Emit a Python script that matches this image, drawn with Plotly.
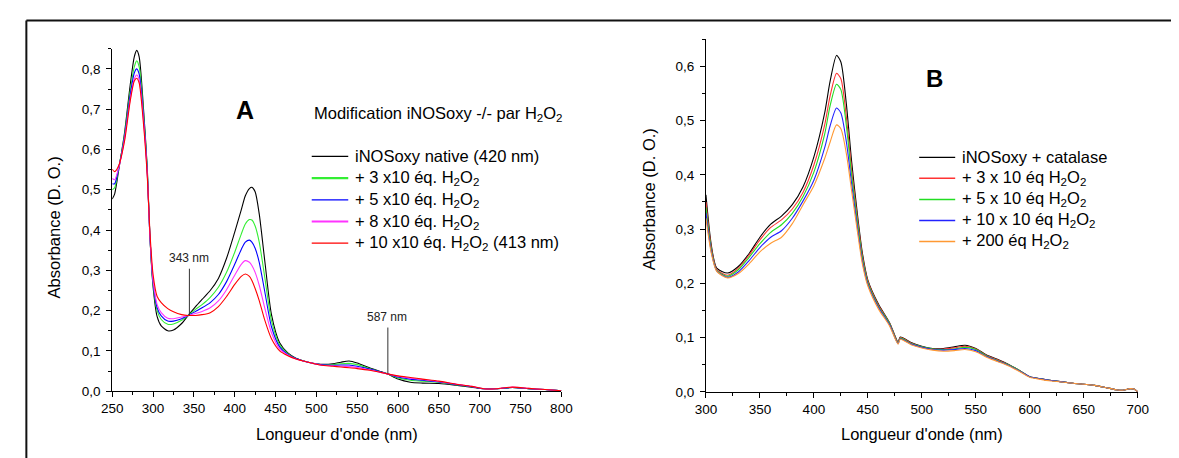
import plotly.graph_objects as go

W, H = 1179, 458
FONT = "Liberation Sans, Arial, sans-serif"

# ---------------- Panel A data ----------------
wl_a = [250, 253, 258, 265, 272, 277, 280, 283, 288, 293, 296, 300, 305, 310, 318, 325,
        335, 343, 352, 360, 370, 380, 390, 400, 408, 413, 418, 421, 425, 430, 437, 445,
        455, 465, 475, 490, 505, 520, 530, 540, 550, 565, 580, 587, 600, 615, 630, 650,
        670, 690, 705, 720, 740, 760, 780, 800]
a_native = [0.477, 0.490, 0.550, 0.640, 0.760, 0.830, 0.846, 0.830, 0.710, 0.550, 0.390, 0.260,
            0.185, 0.162, 0.150, 0.152, 0.168, 0.188, 0.210, 0.228, 0.250, 0.280, 0.330, 0.395,
            0.450, 0.485, 0.503, 0.506, 0.495, 0.440, 0.320, 0.190, 0.120, 0.095, 0.082, 0.072,
            0.067, 0.068, 0.072, 0.075, 0.070, 0.058, 0.048, 0.043, 0.030, 0.022, 0.020, 0.019,
            0.015, 0.010, 0.006, 0.006, 0.009, 0.006, 0.004, 0.001]
a_3x10 = [0.500, 0.505, 0.555, 0.635, 0.745, 0.805, 0.820, 0.805, 0.700, 0.545, 0.390, 0.265,
          0.200, 0.178, 0.166, 0.167, 0.176, 0.188, 0.203, 0.215, 0.233, 0.258, 0.295, 0.345,
          0.390, 0.415, 0.426, 0.425, 0.410, 0.370, 0.280, 0.175, 0.115, 0.093, 0.081, 0.072,
          0.066, 0.066, 0.068, 0.069, 0.066, 0.056, 0.047, 0.043, 0.033, 0.027, 0.025, 0.022,
          0.016, 0.011, 0.006, 0.006, 0.009, 0.006, 0.004, 0.001]
a_5x10 = [0.515, 0.515, 0.555, 0.630, 0.735, 0.790, 0.800, 0.787, 0.690, 0.540, 0.390, 0.270,
          0.207, 0.187, 0.174, 0.174, 0.180, 0.188, 0.198, 0.207, 0.220, 0.240, 0.272, 0.315,
          0.352, 0.370, 0.375, 0.370, 0.355, 0.320, 0.245, 0.160, 0.110, 0.091, 0.081, 0.072,
          0.066, 0.064, 0.065, 0.065, 0.062, 0.055, 0.047, 0.043, 0.035, 0.030, 0.027, 0.023,
          0.017, 0.011, 0.006, 0.006, 0.009, 0.006, 0.004, 0.001]
a_8x10 = [0.528, 0.525, 0.555, 0.625, 0.725, 0.775, 0.785, 0.773, 0.680, 0.535, 0.390, 0.275,
          0.215, 0.195, 0.181, 0.180, 0.184, 0.188, 0.193, 0.198, 0.207, 0.224, 0.252, 0.288,
          0.315, 0.324, 0.320, 0.312, 0.295, 0.263, 0.205, 0.145, 0.105, 0.090, 0.080, 0.072,
          0.065, 0.063, 0.062, 0.061, 0.059, 0.053, 0.046, 0.043, 0.037, 0.032, 0.029, 0.024,
          0.018, 0.012, 0.006, 0.006, 0.010, 0.007, 0.004, 0.001]
a_10x10 = [0.551, 0.545, 0.560, 0.620, 0.720, 0.770, 0.777, 0.765, 0.670, 0.530, 0.400, 0.290,
           0.235, 0.220, 0.205, 0.197, 0.190, 0.188, 0.188, 0.190, 0.195, 0.210, 0.235, 0.265,
           0.285, 0.291, 0.285, 0.275, 0.255, 0.225, 0.175, 0.130, 0.100, 0.088, 0.080, 0.072,
           0.065, 0.062, 0.060, 0.058, 0.056, 0.052, 0.046, 0.043, 0.038, 0.034, 0.030, 0.025,
           0.018, 0.012, 0.006, 0.006, 0.010, 0.007, 0.004, 0.001]

names_a = ["iNOSoxy native (420 nm)",
           "+ 3 x10 éq. H<sub>2</sub>O<sub>2</sub>",
           "+ 5 x10 éq. H<sub>2</sub>O<sub>2</sub>",
           "+ 8 x10 éq. H<sub>2</sub>O<sub>2</sub>",
           "+ 10 x10 éq. H<sub>2</sub>O<sub>2</sub> (413 nm)"]
series_a = [a_native, a_3x10, a_5x10, a_8x10, a_10x10]
colors_a = ["#000000", "#33ee33", "#0000ff", "#ff33ff", "#ff0000"]
keywidth_a = [1.2, 2.2, 1.2, 2.2, 1.2]

# ---------------- Panel B data ----------------
wl_b = [300, 305, 310, 320, 330, 340, 350, 360, 370, 380, 390, 400, 410, 415, 421, 425,
        430, 435, 440, 445, 450, 460, 470, 478, 480, 490, 500, 510, 520, 530, 540, 550,
        560, 570, 580, 590, 600, 610, 620, 640, 650, 660, 670, 680, 686, 693, 697, 700]
b_cat = [0.363, 0.270, 0.228, 0.219, 0.231, 0.255, 0.285, 0.309, 0.324, 0.345, 0.378, 0.433,
         0.514, 0.572, 0.620, 0.608, 0.532, 0.424, 0.333, 0.255, 0.206, 0.161, 0.128, 0.092,
         0.101, 0.091, 0.084, 0.080, 0.080, 0.083, 0.086, 0.080, 0.068, 0.060, 0.051, 0.040,
         0.028, 0.024, 0.021, 0.016, 0.014, 0.012, 0.008, 0.004, 0.003, 0.006, 0.005, 0.000]
b_3x10 = [0.350, 0.266, 0.226, 0.215, 0.228, 0.252, 0.280, 0.303, 0.317, 0.337, 0.368, 0.418,
          0.492, 0.545, 0.587, 0.577, 0.508, 0.408, 0.325, 0.250, 0.204, 0.159, 0.127, 0.091,
          0.100, 0.090, 0.083, 0.079, 0.079, 0.081, 0.084, 0.079, 0.067, 0.059, 0.050, 0.040,
          0.028, 0.024, 0.021, 0.016, 0.014, 0.012, 0.008, 0.004, 0.003, 0.006, 0.005, 0.000]
b_5x10 = [0.340, 0.262, 0.224, 0.213, 0.225, 0.248, 0.273, 0.294, 0.308, 0.329, 0.360, 0.405,
          0.475, 0.527, 0.567, 0.557, 0.492, 0.398, 0.318, 0.246, 0.201, 0.157, 0.126, 0.090,
          0.099, 0.089, 0.083, 0.079, 0.078, 0.079, 0.082, 0.078, 0.066, 0.058, 0.050, 0.040,
          0.028, 0.024, 0.021, 0.016, 0.014, 0.012, 0.008, 0.004, 0.003, 0.006, 0.005, 0.000]
b_10x10 = [0.330, 0.258, 0.223, 0.211, 0.221, 0.242, 0.266, 0.285, 0.297, 0.320, 0.352, 0.390,
           0.450, 0.490, 0.523, 0.514, 0.462, 0.383, 0.308, 0.240, 0.198, 0.155, 0.124, 0.089,
           0.098, 0.088, 0.082, 0.078, 0.077, 0.078, 0.080, 0.076, 0.065, 0.057, 0.049, 0.039,
           0.028, 0.024, 0.021, 0.016, 0.014, 0.012, 0.008, 0.004, 0.003, 0.006, 0.005, 0.000]
b_200 = [0.320, 0.255, 0.222, 0.210, 0.218, 0.236, 0.258, 0.274, 0.285, 0.310, 0.345, 0.380,
         0.430, 0.460, 0.492, 0.485, 0.440, 0.370, 0.300, 0.235, 0.195, 0.152, 0.122, 0.088,
         0.097, 0.087, 0.081, 0.077, 0.075, 0.076, 0.078, 0.074, 0.064, 0.056, 0.048, 0.038,
         0.027, 0.023, 0.020, 0.016, 0.014, 0.012, 0.008, 0.004, 0.003, 0.006, 0.005, 0.000]

names_b = ["iNOSoxy + catalase",
           "+ 3 x 10 éq H<sub>2</sub>O<sub>2</sub>",
           "+ 5 x 10 éq H<sub>2</sub>O<sub>2</sub>",
           "+ 10 x 10 éq H<sub>2</sub>O<sub>2</sub>",
           "+ 200 éq H<sub>2</sub>O<sub>2</sub>"]
series_b = [b_cat, b_3x10, b_5x10, b_10x10, b_200]
colors_b = ["#000000", "#ff3333", "#22dd22", "#2222ff", "#ff9933"]
keywidth_b = [1.3, 1.5, 1.5, 1.5, 1.5]

# ---------------- figure ----------------
fig = go.Figure()
for name, ys, col in zip(names_a, series_a, colors_a):
    fig.add_trace(go.Scatter(x=wl_a, y=ys, name=name, mode="lines",
                             line=dict(color=col, width=1.1, shape="spline", smoothing=0.7),
                             xaxis="x", yaxis="y", showlegend=False))
for name, ys, col in zip(names_b, series_b, colors_b):
    fig.add_trace(go.Scatter(x=wl_b, y=ys, name=name, mode="lines",
                             line=dict(color=col, width=1.1, shape="spline", smoothing=0.7),
                             xaxis="x2", yaxis="y2", showlegend=False))


def px(x):
    return x / W


def py(y):
    return 1 - y / H


axis_common = dict(showline=True, linecolor="black", linewidth=1, showgrid=False,
                   zeroline=False, ticks="outside", ticklen=5, tickwidth=1, tickcolor="black",
                   tickfont=dict(family=FONT, size=13.5, color="black"), mirror=False)

fig.update_layout(
    width=W, height=H, margin=dict(l=0, r=0, t=0, b=0),
    paper_bgcolor="white", plot_bgcolor="white",
    separators=",.",
    showlegend=False,
    font=dict(family=FONT, color="black"),
    xaxis=dict(domain=[px(95), px(552.7)], range=[250, 800], anchor="y",
               tick0=250, dtick=50,
               minor=dict(ticks="outside", ticklen=3, dtick=25, tick0=250, tickcolor="black"),
               **axis_common),
    yaxis=dict(domain=[py(390), py(41.5)], range=[0, 0.85], anchor="x",
               tick0=0, dtick=0.1, tickformat=".1f", ticklabelstandoff=3,
               minor=dict(ticks="outside", ticklen=3, dtick=0.05, tick0=0, tickcolor="black"),
               **axis_common),
    xaxis2=dict(domain=[px(700), px(1140)], range=[300, 700], anchor="y2",
                tick0=300, dtick=50,
                minor=dict(ticks="outside", ticklen=3, dtick=25, tick0=300, tickcolor="black"),
                **axis_common),
    yaxis2=dict(domain=[py(390.7), py(31.7)], range=[0, 0.65], anchor="x2",
                tick0=0, dtick=0.1, tickformat=".1f", ticklabelstandoff=3,
                minor=dict(ticks="outside", ticklen=3, dtick=0.05, tick0=0, tickcolor="black"),
                **axis_common),
)

shapes = []
annotations = []


def ann(x, y, text, size, xref="paper", yref="paper", xanchor="center", yanchor="middle",
        color="black", angle=0):
    annotations.append(dict(xref=xref, yref=yref, x=x, y=y, text=text, showarrow=False,
                            xanchor=xanchor, yanchor=yanchor, textangle=angle,
                            font=dict(family=FONT, size=size, color=color)))


# outer frame (left and top edges visible)
shapes.append(dict(type="line", xref="paper", yref="paper", x0=px(7.5), x1=1.01,
                   y0=py(12.7), y1=py(12.7), line=dict(color="#111111", width=2)))
shapes.append(dict(type="line", xref="paper", yref="paper", x0=px(7.5), x1=px(7.5),
                   y0=py(12.7), y1=-0.02, line=dict(color="#111111", width=2)))

# marker lines for isosbestic points in A
shapes.append(dict(type="line", xref="x", yref="y", x0=344.5, x1=344.5, y0=0.188, y1=0.304,
                   line=dict(color="#333333", width=1)))
shapes.append(dict(type="line", xref="x", yref="y", x0=587.5, x1=587.5, y0=0.044, y1=0.158,
                   line=dict(color="#333333", width=1)))
ann(343.5, 0.331, "343 nm", 12, xref="x", yref="y", color="#222222")
ann(586.5, 0.185, "587 nm", 12, xref="x", yref="y", color="#222222")

# panel letters
ann(412.7, 0.697, "<b>A</b>", 25, xref="x", yref="y")
ann(511.6, 0.578, "<b>B</b>", 24, xref="x2", yref="y2")

# axis titles
for xc, yc in [(324.5, 434), (920, 434)]:
    ann(px(xc), py(yc), "Longueur d'onde (nm)", 16.5)
for xc, yc in [(36, 223), (641.7, 195)]:
    ann(px(xc), py(yc), "Absorbance (D. O.)", 16.5, angle=-90)

# legend A title
ann(px(298.3), py(108.3), "Modification iNOSoxy -/- par H<sub>2</sub>O<sub>2</sub>", 16.5,
    xanchor="left")


def add_legend(names, colors, widths, x_line0, x_line1, x_text, y0, step):
    for i, (nm, col, lw) in enumerate(zip(names, colors, widths)):
        yy = y0 + i * step
        shapes.append(dict(type="line", xref="paper", yref="paper", x0=px(x_line0), x1=px(x_line1),
                           y0=py(yy), y1=py(yy), line=dict(color=col, width=lw)))
        ann(px(x_text), py(yy), nm, 16.5, xanchor="left")


add_legend(names_a, colors_a, keywidth_a, 298.3, 335.5, 340.0, 151.0, 22.1)
add_legend(names_b, colors_b, keywidth_b, 917.3, 954.0, 958.5, 152.0, 21.4)

fig.update_layout(shapes=shapes, annotations=annotations)
fig.write_html("out.html")
